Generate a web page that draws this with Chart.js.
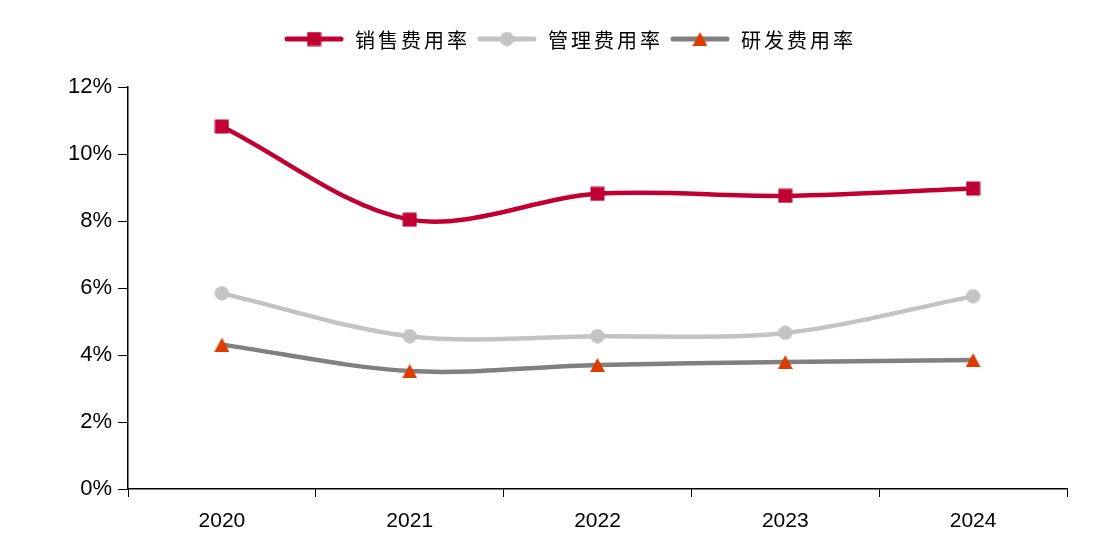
<!DOCTYPE html>
<html>
<head>
<meta charset="utf-8">
<script src="https://cdn.jsdelivr.net/npm/chart.js@4/dist/chart.umd.min.js"></script>
<style>
  html, body { margin: 0; padding: 0; background: #ffffff; }
  #wrap { width: 1103px; height: 544px; }
</style>
</head>
<body>
<div id="wrap"><canvas id="c" width="1103" height="544"></canvas></div>
<script>
const years = ['2020', '2021', '2022', '2023', '2024'];
const seriesNames = ['销售费用率', '管理费用率', '研发费用率'];
const salesRate = [10.82, 8.04, 8.81, 8.75, 8.97];
const adminRate = [5.84, 4.56, 4.56, 4.66, 5.75];
const rdRate = [4.31, 3.52, 3.70, 3.79, 3.85];
const yTicks = [0, 2, 4, 6, 8, 10, 12];

const C_SALES = '#C00032';
const C_ADMIN = '#C3C3C3';
const C_RD_LINE = '#808080';
const C_RD_MARK = '#DD3C00';

function markerCanvas(kind, color) {
  const cv = document.createElement('canvas');
  const w = 15;
  const h = kind === 'tri' ? 14 : 15;
  cv.width = w; cv.height = h;
  const g = cv.getContext('2d');
  g.fillStyle = color;
  if (kind === 'rect') {
    g.fillRect(0.5, 0.5, 14, 14);
  } else if (kind === 'circle') {
    g.beginPath(); g.arc(7.5, 7.5, 7.2, 0, Math.PI * 2); g.fill();
  } else {
    g.beginPath(); g.moveTo(7.5, 0); g.lineTo(15, 14); g.lineTo(0, 14); g.closePath(); g.fill();
  }
  return cv;
}
const mSales = markerCanvas('rect', C_SALES);
const mAdmin = markerCanvas('circle', C_ADMIN);
const mRd = markerCanvas('tri', C_RD_MARK);

const legendPlugin = {
  id: 'customLegend',
  afterDraw(chart) {
    const ctx = chart.ctx;
    const items = chart.data.datasets.map((d, i) => ({ label: d.label, color: d.borderColor, marker: [mSales, mAdmin, mRd][i] }));
    ctx.save();
    ctx.font = '20px "Noto Sans CJK SC"';
    ctx.letterSpacing = '3px';
    ctx.textBaseline = 'middle';
    ctx.textAlign = 'left';
    const lineLen = 58, gap1 = 12, gap2 = 8;
    const widths = items.map(it => ctx.measureText(it.label).width);
    let total = 0;
    widths.forEach((w, i) => { total += lineLen + gap1 + w + (i < items.length - 1 ? gap2 : 0); });
    let x = chart.width / 2 + 19 - total / 2;
    const y = 39;
    items.forEach((it, i) => {
      ctx.strokeStyle = it.color;
      ctx.lineWidth = 5;
      ctx.lineCap = 'round';
      ctx.beginPath(); ctx.moveTo(x + 2, y); ctx.lineTo(x + lineLen - 2, y); ctx.stroke();
      const m = it.marker;
      ctx.drawImage(m, x + lineLen / 2 - m.width / 2, y - m.height / 2);
      ctx.fillStyle = '#000000';
      ctx.fillText(it.label, x + lineLen + gap1, y + 1);
      x += lineLen + gap1 + widths[i] + gap2;
    });
    ctx.restore();
  }
};

new Chart(document.getElementById('c'), {
  type: 'line',
  data: {
    labels: years,
    datasets: [
      { label: seriesNames[0], data: salesRate, borderColor: C_SALES, backgroundColor: C_SALES, borderWidth: 4.5, tension: 0.33, pointStyle: mSales, pointRadius: 8 },
      { label: seriesNames[1], data: adminRate, borderColor: C_ADMIN, backgroundColor: C_ADMIN, borderWidth: 4.5, tension: 0.33, pointStyle: mAdmin, pointRadius: 8 },
      { label: seriesNames[2], data: rdRate, borderColor: C_RD_LINE, backgroundColor: C_RD_MARK, borderWidth: 4.5, tension: 0.33, pointStyle: mRd, pointRadius: 8 }
    ]
  },
  options: {
    responsive: false,
    animation: false,
    devicePixelRatio: 1,
    layout: { padding: { top: 87, right: 36, bottom: 0, left: 0 } },
    plugins: { legend: { display: false }, tooltip: { enabled: false } },
    scales: {
      x: {
        offset: true,
        grid: { display: true, drawOnChartArea: false, drawTicks: true, tickLength: 8, color: '#000000', offset: true },
        border: { display: true, color: '#000000', width: 1.5 },
        ticks: { color: '#000000', font: { family: '"Liberation Sans", Arial', size: 21 }, padding: 12, maxRotation: 0 },
        afterFit(s) { s.height = 55; }
      },
      y: {
        min: 0, max: 12,
        afterBuildTicks(s) { s.ticks = yTicks.map(v => ({ value: v })); },
        grid: { display: true, drawOnChartArea: false, drawTicks: true, tickLength: 10, color: '#000000' },
        border: { display: true, color: '#000000', width: 1.5 },
        ticks: { color: '#000000', font: { family: '"Liberation Sans", Arial', size: 22 }, padding: 6, callback: v => v + '%' },
        afterFit(s) { s.width = 128; }
      }
    }
  },
  plugins: [legendPlugin]
});
</script>
</body>
</html>
